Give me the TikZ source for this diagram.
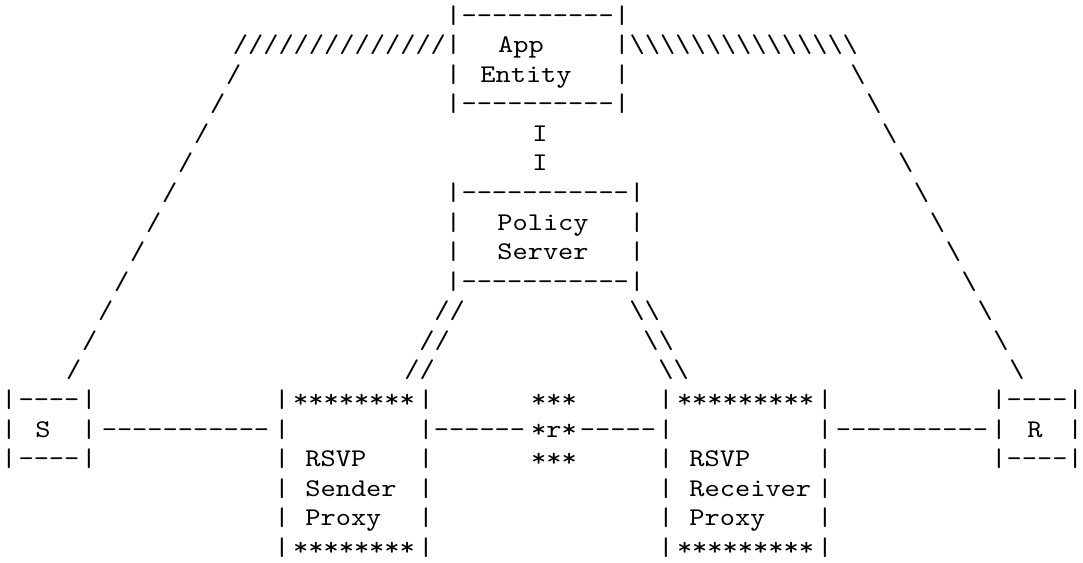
\documentclass[tikz,border=0pt]{standalone}
\usepackage{fontspec}
\setmonofont[FakeStretch=1.1387]{lmmono10-regular.otf}
\usepackage{tikz}

\newcommand{\chrun}[2]{\foreach \k in {1,...,#1}{#2}}
\tikzset{ascii/.style={anchor=base, inner sep=0pt,
    font=\ttfamily\fontsize{12.73pt}{14pt}\selectfont}}

\begin{document}
\begin{tikzpicture}[x=0.5pt, y=-14.78pt]
      \useasboundingbox (0,-0.785) rectangle (1083,18.26);

      % App entity
      \node[ascii] (app-top) at (537.75,0) {\chrun{10}{-}};
      \node[ascii] (app-bot) at (537.75,3) {\chrun{10}{-}};
      \foreach \r in {0,...,3} {
        \node[ascii] (app-l\r) at (453.5,\r) {|};
        \node[ascii] (app-r\r) at (622,\r) {|};
      }
      \node[ascii] (app) at (521,1) {App};
      \node[ascii] (entity) at (526,2) {Entity};
      \node[ascii] (app-sl) at (339.4,1) {\chrun{14}{/}};
      \node[ascii] (app-bs) at (743.8,1) {\chrun{15}{\textbackslash}};
      \node[ascii] (link-1) at (540,4) {I};
      \node[ascii] (link-2) at (540,5) {I};

      % outer diagonals
      \foreach \r in {2,...,12}
      \node[ascii] (lw-\r) at ({233.7-16*(\r-2)},\r) {/};
      \foreach \r in {2,...,12}
      \node[ascii] (rw-\r) at ({858+15.9*(\r-2)},\r) {\textbackslash};

      % Policy server
      \node[ascii] (ps-top) at (545.25,6) {\chrun{11}{-}};
      \node[ascii] (ps-bot) at (545.25,9) {\chrun{11}{-}};
      \foreach \r in {6,...,9} {
        \node[ascii] (ps-l\r) at (453.5,\r) {|};
        \node[ascii] (ps-r\r) at (637,\r) {|};
      }
      \node[ascii] (policy) at (543,7) {Policy};
      \node[ascii] (server) at (543,8) {Server};

      \foreach \r/\x in {10/449.6,11/434.6,12/419.6}
      \node[ascii] (pl-\r) at (\x,\r) {//};
      \foreach \r/\x in {10/644.6,11/658.6,12/673.6}
      \node[ascii] (pr-\r) at (\x,\r) {\textbackslash\textbackslash};

      % S and R
      \foreach \r in {13,14,15} {
        \node[ascii] (s-l\r) at (9,\r) {|};
        \node[ascii] (s-r\r) at (89,\r) {|};
        \node[ascii] (r-l\r) at (999,\r) {|};
        \node[ascii] (r-r\r) at (1075.2,\r) {|};
      }
      \node[ascii] (s-top) at (49,13) {----};
      \node[ascii] (s-bot) at (49,15) {----};
      \node[ascii] (s) at (43,14) {S};
      \node[ascii] (r-top) at (1037.1,13) {----};
      \node[ascii] (r-bot) at (1037.1,15) {----};
      \node[ascii] (r) at (1035,14) {R};

      % Links on the data path
      \node[ascii] (s-line) at (185.5,14) {\chrun{11}{-}};
      \node[ascii] (mid-l) at (479.5,14) {\chrun{6}{-}};
      \node[ascii] (rtr) at (554,14) {*r*};
      \node[ascii] (mid-r) at (618,14) {\chrun{5}{-}};
      \node[ascii] (r-line) at (912,14) {\chrun{10}{-}};
      \node[ascii] (rtr-top) at (554,13) {***};
      \node[ascii] (rtr-bot) at (554,15) {***};

      % Sender proxy
      \foreach \r in {13,...,18} {
        \node[ascii] (sp-l\r) at (282,\r) {|};
        \node[ascii] (sp-r\r) at (426,\r) {|};
      }
      \node[ascii] (sp-top) at (354,13) {\chrun{8}{*}};
      \node[ascii] (sp-1) at (335.8,15) {RSVP};
      \node[ascii] (sp-2) at (351,16) {Sender};
      \node[ascii] (sp-3) at (343.4,17) {Proxy};
      \node[ascii] (sp-bot) at (354,18) {\chrun{8}{*}};

      % Receiver proxy
      \foreach \r in {13,...,18} {
        \node[ascii] (rp-l\r) at (666,\r) {|};
        \node[ascii] (rp-r\r) at (825,\r) {|};
      }
      \node[ascii] (rp-top) at (745.5,13) {\chrun{9}{*}};
      \node[ascii] (rp-1) at (719.8,15) {RSVP};
      \node[ascii] (rp-2) at (750.3,16) {Receiver};
      \node[ascii] (rp-3) at (727.4,17) {Proxy};
      \node[ascii] (rp-bot) at (745.5,18) {\chrun{9}{*}};
    \end{tikzpicture}
\end{document}
